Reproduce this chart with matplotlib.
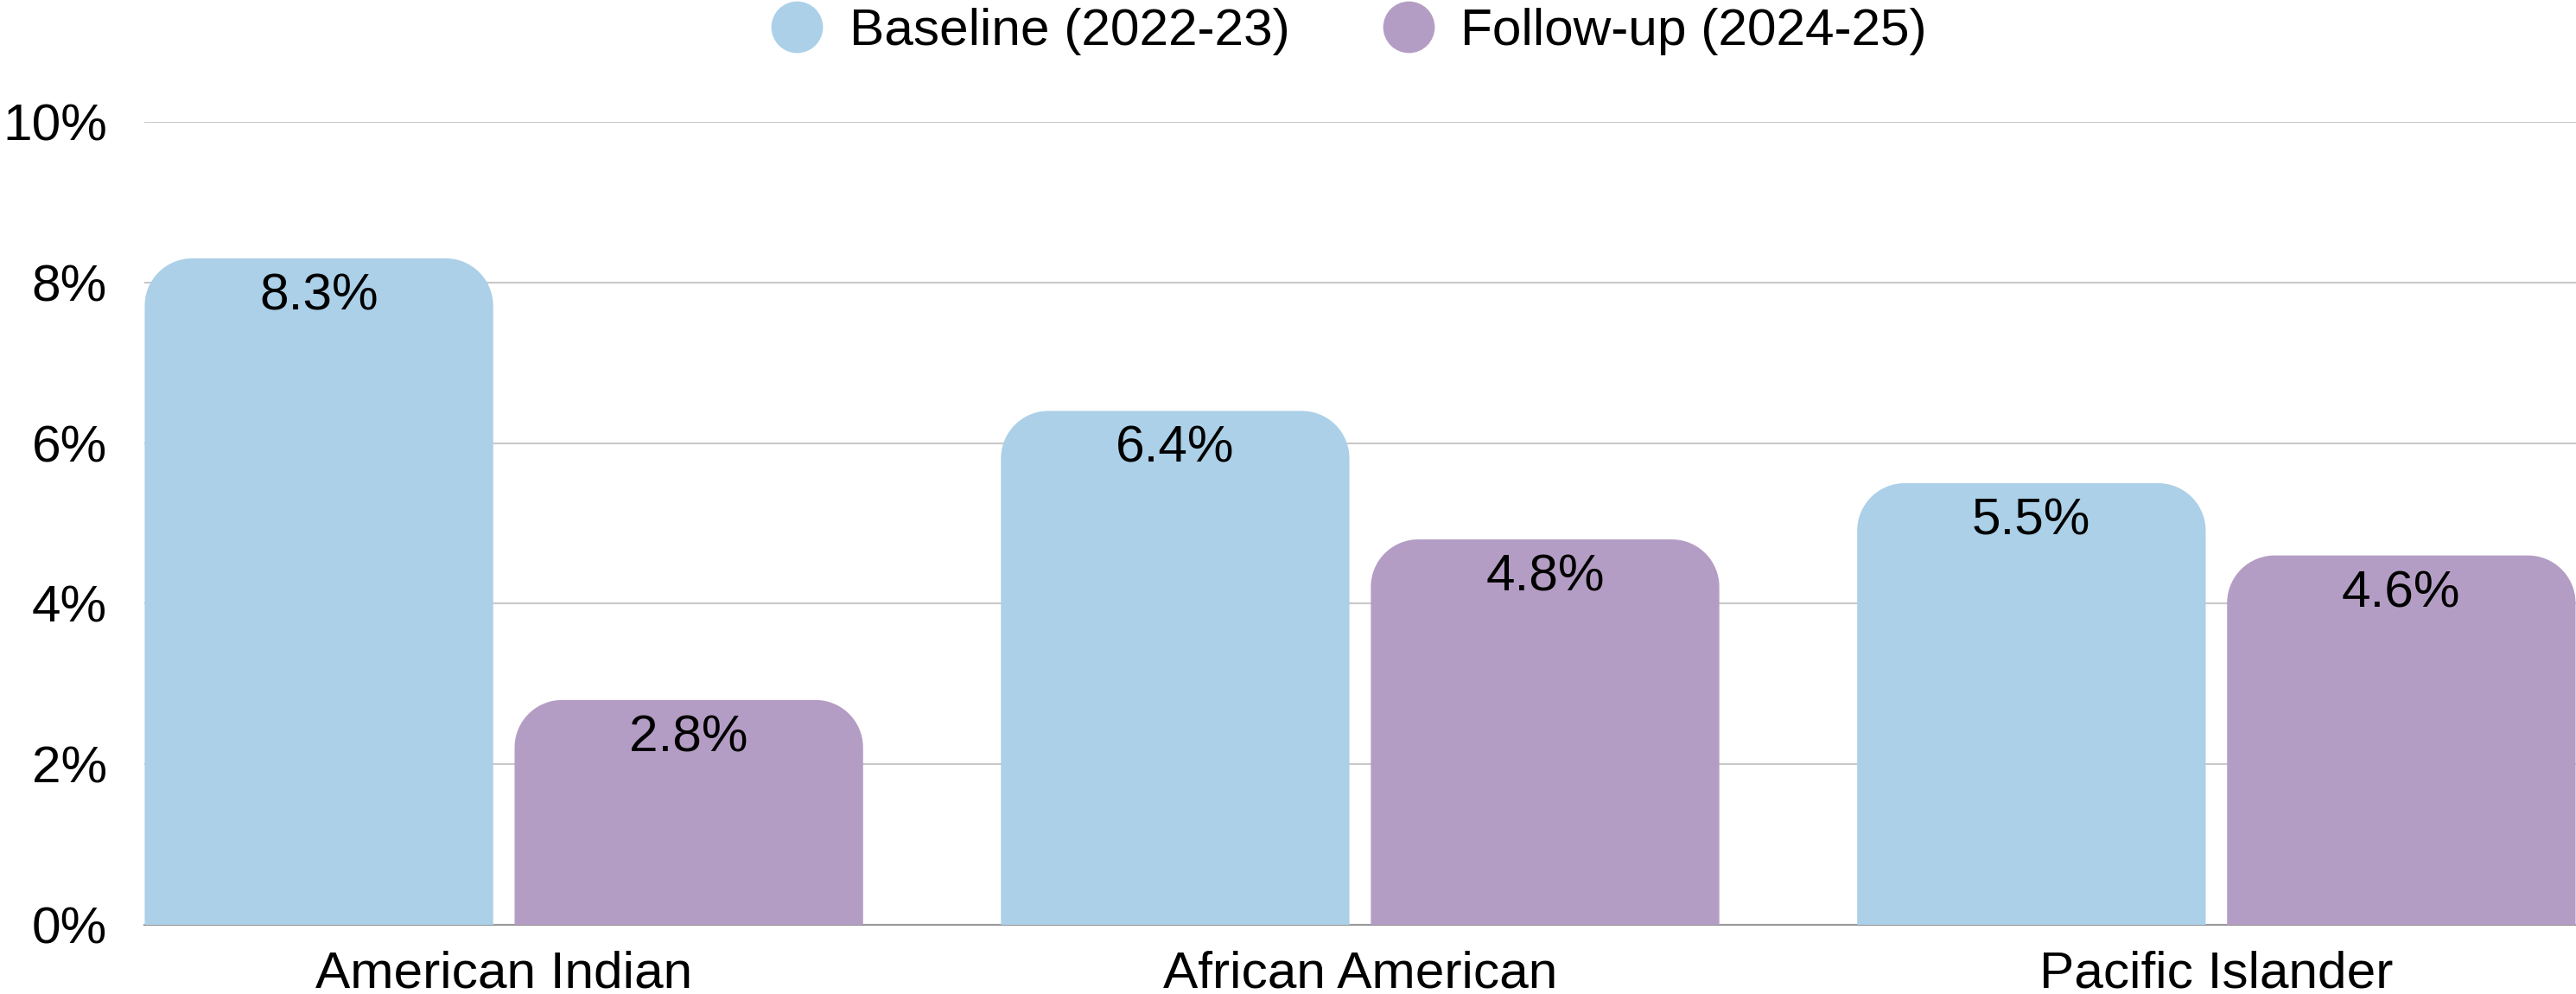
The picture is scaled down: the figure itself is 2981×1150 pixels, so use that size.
import matplotlib.pyplot as plt
import numpy as np
from matplotlib.patches import PathPatch
from matplotlib.path import Path
from matplotlib.lines import Line2D
from matplotlib.ticker import FuncFormatter

plt.rcParams['font.family'] = ['Liberation Sans', 'DejaVu Sans']

# Share of students, by group and period
groups = ["American Indian", "African American", "Pacific Islander"]
baseline = [8.3, 6.4, 5.5]
follow_up = [2.8, 4.8, 4.6]
series_names = ["Baseline (2022-23)", "Follow-up (2024-25)"]
colors = ["#ABD0E8", "#B49DC4"]

FS = 43.5
DPI = 100
fig = plt.figure(figsize=(29.81, 11.5), dpi=DPI)
ax = fig.add_axes([0.056, 0.0696, 0.944, 0.8078])

x = np.arange(len(groups))
width = 0.407
gap = 0.025
ax.set_xlim(-0.42, 2.42)
ax.set_ylim(0, 10)

# corner radius in pixels -> data units in x and y
bbox = ax.get_window_extent()
px_x = bbox.width / (2.42 + 0.42)
px_y = bbox.height / 10
r_px = 55
rx = r_px / px_x
ry = r_px / px_y


def rounded_top(x0, w, h):
    """Path of a bar with circular top corners (in screen space)."""
    t = np.linspace(0, np.pi / 2, 24)
    left = np.column_stack([x0 + rx - rx * np.cos(t), h - ry + ry * np.sin(t)])
    right = np.column_stack([x0 + w - rx + rx * np.sin(t), h - ry + ry * np.cos(t)])
    verts = np.vstack([[[x0, 0]], left, right, [[x0 + w, 0]], [[x0, 0]]])
    codes = [Path.MOVETO] + [Path.LINETO] * (len(verts) - 2) + [Path.CLOSEPOLY]
    return Path(verts, codes)


for vals, color, offs in [(baseline, colors[0], -(width + gap) / 2),
                          (follow_up, colors[1], (width + gap) / 2)]:
    bars = ax.bar(x + offs, vals, width, color=color)
    for rect, v in zip(bars, vals):
        x0, w, h = rect.get_x(), rect.get_width(), rect.get_height()
        rect.remove()
        ax.add_patch(PathPatch(rounded_top(x0, w, h), facecolor=color,
                               edgecolor="none", zorder=2))
        ax.annotate(f"{v:.1f}%", (x0 + w / 2, h), xytext=(0, -44),
                    textcoords="offset pixels", ha="center", va="center",
                    fontsize=FS, color="black", zorder=3)

ax.set_yticks([0, 2, 4, 6, 8, 10])
ax.yaxis.set_major_formatter(FuncFormatter(lambda v, _: f"{v:.0f}%"))
ax.set_xticks(x)
ax.set_xticklabels(groups)
ax.tick_params(axis="both", length=0, labelsize=FS)
ax.tick_params(axis="y", pad=31)
ax.tick_params(axis="x", pad=21)
ax.yaxis.grid(True, color="#c8c8c8", linewidth=1.5, zorder=0)
ax.set_axisbelow(True)
for s in ax.spines.values():
    s.set_visible(False)
ax.axhline(0, color="#999999", linewidth=1.5, zorder=1, clip_on=False)

handles = [Line2D([], [], marker="o", linestyle="none", markersize=43,
                  markerfacecolor=c, markeredgecolor="none") for c in colors]
fig.legend(handles, series_names, loc="upper center",
           bbox_to_anchor=(0.5236, 0.992), ncol=2, frameon=False,
           fontsize=FS, handlelength=1.0, handletextpad=0.5,
           columnspacing=1.77, borderpad=0.0, borderaxespad=0.0)

fig.savefig("out.png", dpi=DPI)
